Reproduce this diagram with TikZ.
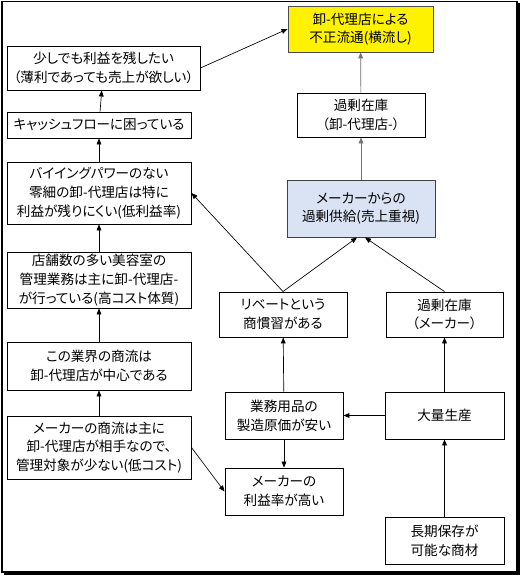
\documentclass[tikz,border=0pt]{standalone}
\usepackage{fontspec}
\setmainfont{Noto Sans CJK JP}[RawFeature=+palt]
\usetikzlibrary{arrows.meta}

\definecolor{supplyblue}{RGB}{218,227,243}

\begin{document}
\begin{tikzpicture}[%
    x=0.75pt, y=-0.75pt,
    flowbox/.style={
        draw,
        rectangle,
        fill=white,
        align=center,
        inner sep=0pt,
        line width=0.7pt,
        font=\fontsize{10.2}{14}\selectfont
        },
    flowarrow/.style={%
        -{Triangle[length=4.5pt,width=3.6pt]},
        line width=0.5pt},
    greyarrow/.style={flowarrow, draw=black!55, fill=black!55},
]

\useasboundingbox (0,0) rectangle (521,576);
\draw[line width=1pt] (2,1.5) rectangle (517,572);
\draw[line width=1.6pt] (518.5,3) -- (518.5,573.5) -- (4,573.5);

% right side
\node[flowbox, fill=yellow, draw=black!70, minimum width=108.75pt, minimum height=34.5pt]
    (fraud) at (360.5,29) {卸-代理店による\\不正流通(横流し)};
\node[flowbox, minimum width=96pt, minimum height=33pt]
    (stockdist) at (361,115) {過剰在庫\\（卸-代理店-）};
\node[flowbox, fill=supplyblue, draw=black!75, minimum width=111pt, minimum height=42.75pt]
    (supply) at (361,208.5) {メーカーからの\\過剰供給(売上重視)};
\node[flowbox, minimum width=96pt, minimum height=33.75pt]
    (rebate) at (283,314.5) {リベートという\\商慣習がある};
\node[flowbox, minimum width=87.75pt, minimum height=33.75pt]
    (stockmaker) at (444.5,314.5) {過剰在庫\\（メーカー）};
\node[flowbox, minimum width=88.5pt, minimum height=35.25pt]
    (cost) at (284,415.5) {業務用品の\\製造原価が安い};
\node[flowbox, minimum width=89.25pt, minimum height=35.25pt]
    (mass) at (444.5,415.5) {大量生産};
\node[flowbox, minimum width=88.5pt, minimum height=35.25pt]
    (margin) at (284,491.5) {メーカーの\\利益率が高い};
\node[flowbox, minimum width=89.25pt, minimum height=35.25pt]
    (storage) at (444.5,540.5) {長期保存が\\可能な商材};

% left side
\node[flowbox, minimum width=144.75pt, minimum height=33pt]
    (profit) at (103.5,68) {少しでも利益を残したい\\（薄利であっても売上が欲しい）};
\node[flowbox, minimum width=138pt, minimum height=19.5pt]
    (cash) at (99,125) {キャッシュフローに困っている};
\node[flowbox, minimum width=138pt, minimum height=46.5pt]
    (buying) at (99,193) {バイイングパワーのない\\零細の卸-代理店は特に\\利益が残りにくい(低利益率)};
\node[flowbox, minimum width=138pt, minimum height=42pt]
    (store) at (99,280) {店舗数の多い美容室の\\管理業務は主に卸-代理店-\\が行っている(高コスト体質)};
\node[flowbox, minimum width=138pt, minimum height=36pt]
    (channel) at (99,366) {この業界の商流は\\卸-代理店が中心である};
\node[flowbox, minimum width=138pt, minimum height=47.25pt]
    (maker) at (99,447.5) {メーカーの商流は主に\\卸-代理店が相手なので、\\管理対象が少ない(低コスト)};

\draw[greyarrow] (stockdist) -- (fraud);
\draw[greyarrow] (supply) -- (stockdist);
\draw[flowarrow] (rebate.north) -- ([xshift=-3pt]supply.south);
\draw[flowarrow] (stockmaker.north) -- ([xshift=3pt]supply.south);
\draw[flowarrow] (rebate.north) -- (buying.east);
\draw[flowarrow] (profit.east) -- (fraud.west);
\foreach \from/\to in {maker/channel, channel/store, store/buying, buying/cash, cash/profit,
                       cost/rebate, mass/stockmaker, storage/mass, cost/margin}
    \draw[flowarrow] (\from) -- (\to);
\draw[flowarrow] (mass) -- (cost);
\draw[flowarrow] (maker.east) -- (margin.west);
\end{tikzpicture}
\end{document}
